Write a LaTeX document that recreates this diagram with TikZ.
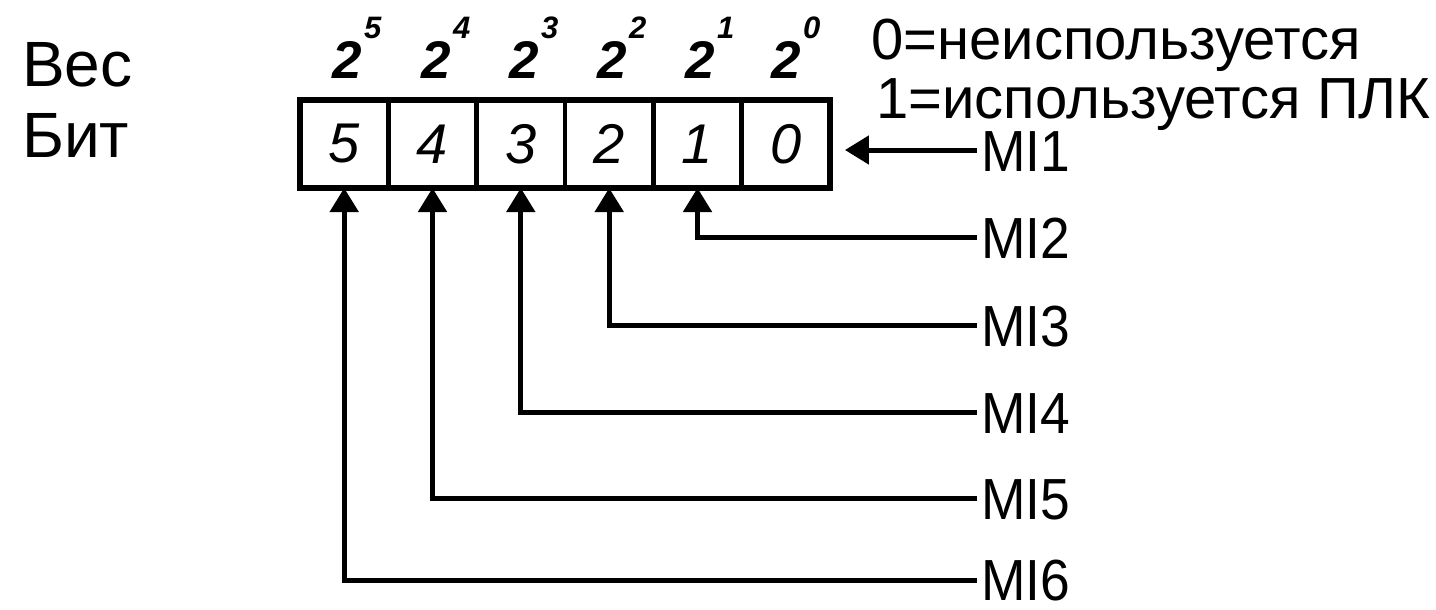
\documentclass[tikz,border=0pt]{standalone}
\usepackage{fontspec}
\setmainfont{Liberation Sans}
\newfontfamily\narrowsans[FakeStretch=0.92]{Liberation Sans}
\usetikzlibrary{arrows.meta}
\begin{document}
\begin{tikzpicture}[x=1pt,y=-1pt,
  cell/.style={draw, line width=4.5pt, minimum width=88.33pt, minimum height=88pt,
    inner sep=0pt, outer sep=0pt, font=\fontsize{56}{60}\selectfont\itshape},
  lbl/.style={inner sep=0pt, font=\narrowsans\fontsize{58}{62}\selectfont},
  side/.style={inner sep=0pt, font=\fontsize{64}{68}\selectfont},
  legend/.style={inner sep=0pt, font=\fontsize{58}{62}\selectfont},
  wt/.style={inner sep=0pt, font=\fontsize{53}{56}\selectfont\itshape\bfseries},
  supnum/.style={inner sep=0pt, font=\fontsize{31}{34}\selectfont\itshape\bfseries},
  arr/.style={line width=5pt, -{Triangle[length=24pt,width=28pt]}},
  frame/.style={line width=6.5pt}]
\useasboundingbox (0,0) rectangle (1436,610);
\fill[white] (0,0) rectangle (1436,610);

% left labels
\node[side, anchor=base west] (ves) at (22,87) {Вес};
\node[side, anchor=base west] (bit) at (22,157) {Бит};

% cells
\node[cell] (c5) at (344.2,144) {5};
\node[cell] (c4) at (432.5,144) {4};
\node[cell] (c3) at (520.8,144) {3};
\node[cell] (c2) at (609.2,144) {2};
\node[cell] (c1) at (697.5,144) {1};
\node[cell] (c0) at (785.8,144) {0};
\draw[frame] (c5.north west) rectangle (c0.south east);

% weights
\foreach \i/\x in {5/347,4/436,3/524,2/612,1/700,0/786}{
  \node[wt, anchor=base] (w\i) at (\x,79) {2};
  \node[supnum, anchor=base west] (s\i) at ([xshift=2pt,yshift=40pt]w\i.base east) {\i};
}

% legend
\node[legend, anchor=base west] (l0) at (871,60) {0=неиспользуется};
\node[legend, anchor=base west] (l1) at (876,118) {1=используется ПЛК};

% input labels
\node[lbl, anchor=base west] (m1) at (981,171) {MI1};
\node[lbl, anchor=base west] (m2) at (981,258) {MI2};
\node[lbl, anchor=base west] (m3) at (981,346) {MI3};
\node[lbl, anchor=base west] (m4) at (981,433) {MI4};
\node[lbl, anchor=base west] (m5) at (981,519) {MI5};
\node[lbl, anchor=base west] (m6) at (981,600) {MI6};

\coordinate (e1) at (977,150);
\coordinate (e2) at (977,237);
\coordinate (e3) at (977,325);
\coordinate (e4) at (977,412);
\coordinate (e5) at (977,498);
\coordinate (e6) at (977,580);

\draw[arr] (e1) -- ([xshift=15pt]c0.east |- e1);
\draw[arr] (e2) -| (c1.south);
\draw[arr] (e3) -| (c2.south);
\draw[arr] (e4) -| (c3.south);
\draw[arr] (e5) -| (c4.south);
\draw[arr] (e6) -| (c5.south);
\end{tikzpicture}
\end{document}
